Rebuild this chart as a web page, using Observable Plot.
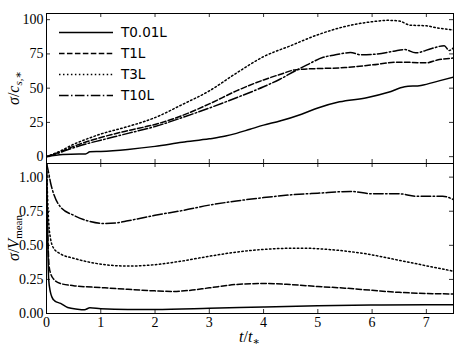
<!DOCTYPE html>
<html><head><meta charset="utf-8">
<script src="https://cdn.jsdelivr.net/npm/d3@7"></script>
<script src="https://cdn.jsdelivr.net/npm/@observablehq/plot@0.6"></script>
<style>body{margin:0;background:#fff} #c svg{display:block}</style>
</head><body><div id="c"></div><script>
// ---- data ----
const seriesNames = ["T0.01L", "T1L", "T3L", "T10L"];
const xTicks = [0, 1, 2, 3, 4, 5, 6, 7];
const yTopTicks = [0, 25, 50, 75, 100];
const yBotTicks = [0, 0.25, 0.5, 0.75, 1.0];

// top panel: sigma / c_s,*
const topT001_t = [0, 0.3, 0.6, 0.72, 0.8, 1.0, 1.5, 2.0, 2.5, 3.0, 3.3, 3.5, 3.75, 4.0, 4.3, 4.7, 5.0, 5.4, 5.9, 6.3, 6.6, 6.9, 7.25, 7.5];
const topT001_v = [0, 1.5, 2, 2, 3.5, 3.8, 5.3, 7.5, 10.5, 13, 15, 17, 20, 23, 26, 31, 35.5, 40, 43, 47, 51, 52, 55.5, 58];
const topT1_t = [0, 0.25, 0.5, 0.75, 1, 1.5, 2, 2.5, 3, 3.5, 4, 4.3, 4.6, 5, 5.5, 6, 6.5, 7, 7.2, 7.5];
const topT1_v = [0, 3.5, 7.5, 11, 14, 19, 23.5, 30, 38.5, 48, 56, 60, 63.5, 64.3, 65, 67, 69, 68.5, 70.5, 72];
const topT3_t = [0, 0.25, 0.5, 0.75, 1, 1.5, 2, 2.5, 3, 3.5, 4, 4.5, 5, 5.5, 6, 6.3, 6.5, 6.7, 7, 7.2, 7.5];
const topT3_v = [0, 4, 9, 13, 16.5, 22, 28.5, 38, 48, 61, 73, 81, 89, 95, 98.5, 99.5, 99, 96, 95.5, 94, 92.5];
const topT10_t = [0, 0.25, 0.5, 0.75, 1, 1.5, 2, 2.5, 3, 3.5, 4, 4.3, 4.6, 4.8, 5.1, 5.35, 5.6, 5.8, 6.1, 6.4, 6.6, 6.8, 7.1, 7.33, 7.42, 7.5];
const topT10_v = [0, 3, 6.5, 9.5, 12, 17, 22, 28.5, 35.5, 43, 51, 56.5, 63, 67, 72.5, 74.5, 76, 74.3, 75, 77, 78.2, 75.8, 79, 81, 77.5, 79.5];

// bottom panel: sigma / V_mean
const botT001_t = [0, 0.02, 0.04, 0.07, 0.1, 0.15, 0.26, 0.39, 0.57, 0.7, 0.8, 1.0, 1.5, 2, 3, 4, 5, 6, 7, 7.5];
const botT001_v = [1.1, 0.6, 0.25, 0.16, 0.12, 0.093, 0.074, 0.044, 0.032, 0.028, 0.042, 0.035, 0.03, 0.03, 0.038, 0.048, 0.057, 0.062, 0.065, 0.065];
const botT1_t = [0, 0.03, 0.05, 0.08, 0.13, 0.26, 0.5, 1, 1.5, 2, 2.3, 2.6, 3, 3.5, 4, 4.5, 5, 5.5, 6, 6.5, 7, 7.5];
const botT1_v = [1.1, 0.5, 0.34, 0.29, 0.253, 0.22, 0.204, 0.19, 0.177, 0.166, 0.162, 0.168, 0.188, 0.213, 0.22, 0.212, 0.198, 0.186, 0.17, 0.155, 0.147, 0.143];
const botT3_t = [0, 0.03, 0.05, 0.07, 0.13, 0.26, 0.5, 0.81, 1.12, 1.5, 2, 2.5, 3, 3.5, 4, 4.5, 4.8, 5.3, 5.9, 6.5, 7, 7.5];
const botT3_v = [1.1, 0.75, 0.62, 0.56, 0.48, 0.437, 0.405, 0.375, 0.356, 0.348, 0.358, 0.385, 0.42, 0.45, 0.47, 0.478, 0.478, 0.466, 0.437, 0.39, 0.35, 0.31];
const botT10_t = [0, 0.03, 0.08, 0.13, 0.26, 0.5, 0.8, 1.05, 1.3, 1.5, 2, 2.5, 3, 3.5, 4, 4.5, 5, 5.6, 6, 6.5, 6.8, 7.3, 7.5];
const botT10_v = [1.1, 1.05, 0.95, 0.88, 0.78, 0.72, 0.675, 0.66, 0.665, 0.68, 0.72, 0.755, 0.795, 0.825, 0.85, 0.87, 0.882, 0.895, 0.878, 0.878, 0.86, 0.86, 0.835];

// ---- build ----
const dash = {"T0.01L": null, "T1L": "5.55,2.4", "T3L": "1.5,2.475", "T10L": "9.6,2.4,1.5,2.4"};
const zipRows = (ts, vs) => ts.map((t, i) => ({t, v: vs[i]}));
const topData = [zipRows(topT001_t, topT001_v), zipRows(topT1_t, topT1_v), zipRows(topT3_t, topT3_v), zipRows(topT10_t, topT10_v)];
const botData = [zipRows(botT001_t, botT001_v), zipRows(botT1_t, botT1_v), zipRows(botT3_t, botT3_v), zipRows(botT10_t, botT10_v)];

const W = 463, ML = 46, MR = 10;
const FW = W - ML - MR, FH = 150, TL = 4;
const serif = "'Liberation Serif', 'DejaVu Serif', serif";

function ticksMarks() {
  return [
    Plot.tickX(xTicks, {x: d => d, insetTop: FH - TL, stroke: "#000", strokeWidth: 0.8}),
    Plot.tickX(xTicks, {x: d => d, insetBottom: FH - TL, stroke: "#000", strokeWidth: 0.8})
  ];
}
function yTickMarks(ticks) {
  return [
    Plot.tickY(ticks, {y: d => d, insetRight: FW - TL, stroke: "#000", strokeWidth: 0.8}),
    Plot.tickY(ticks, {y: d => d, insetLeft: FW - TL, stroke: "#000", strokeWidth: 0.8})
  ];
}
function lineMarks(data) {
  return data.map((rows, i) => Plot.line(rows, {
    x: "t", y: "v", stroke: "#000", strokeWidth: 1.5,
    strokeDasharray: dash[seriesNames[i]], curve: "monotone-x", clip: true
  }));
}

const topPlot = Plot.plot({
  width: W, height: 13 + FH, marginTop: 13, marginBottom: 0, marginLeft: ML, marginRight: MR,
  style: {fontFamily: serif, fontSize: "14px", background: "#fff", overflow: "visible"},
  x: {domain: [0, 7.5], axis: null},
  y: {domain: [-5, 104.5]},
  marks: [
    ...lineMarks(topData),
    ...ticksMarks(),
    ...yTickMarks(yTopTicks),
    Plot.axisY(yTopTicks, {tickSize: 0, tickPadding: 3, label: null, fontSize: 14}),
    Plot.frame({stroke: "#000", strokeWidth: 1})
  ]
});

const botPlot = Plot.plot({
  width: W, height: FH + 34, marginTop: 0, marginBottom: 34, marginLeft: ML, marginRight: MR,
  style: {fontFamily: serif, fontSize: "14px", background: "#fff", overflow: "visible"},
  x: {domain: [0, 7.5]},
  y: {domain: [0, 1.1]},
  marks: [
    ...lineMarks(botData),
    ...ticksMarks(),
    ...yTickMarks(yBotTicks),
    Plot.axisY(yBotTicks, {tickSize: 0, tickPadding: 3, label: null, tickFormat: d3.format(".2f"), fontSize: 14}),
    Plot.axisX(xTicks, {tickSize: 0, tickPadding: 4, label: null, tickFormat: d3.format("d"), fontSize: 14}),
    Plot.frame({stroke: "#000", strokeWidth: 1})
  ]
});

document.getElementById("c").append(topPlot, botPlot);

// legend (top panel, upper left)
const ts = d3.select(topPlot);
const lg = ts.append("g").attr("text-anchor", "start");
seriesNames.forEach((s, i) => {
  const y = 32.5 + 21 * i;
  lg.append("line").attr("x1", 59).attr("x2", 113).attr("y1", y).attr("y2", y)
    .attr("stroke", "#000").attr("stroke-width", 1.5)
    .attr("stroke-dasharray", dash[s]);
  lg.append("text").attr("x", 121).attr("y", y).attr("dy", "0.36em")
    .attr("text-anchor", "start")
    .attr("font-family", "'DejaVu Sans', sans-serif").attr("font-size", 13.5)
    .attr("fill", "#000").text(s);
});

// axis labels (math style)
function mathLabel(sel, parts, attrs) {
  const t = sel.append("text").attr("font-family", serif).attr("font-size", 16).attr("fill", "#000");
  Object.entries(attrs).forEach(([k, v]) => t.attr(k, v));
  parts.forEach(p => {
    const sp = t.append("tspan").text(p.s);
    if (p.i) sp.attr("font-style", "italic");
    if (p.sub) sp.attr("font-size", 11).attr("dy", p.dy);
  });
  return t;
}
mathLabel(ts, [{s: "σ", i: 1}, {s: "/"}, {s: "c", i: 1}, {s: "s,∗", i: 1, sub: 1, dy: 3}],
  {transform: "translate(19,88) rotate(-90)", "text-anchor": "middle"});
const bs = d3.select(botPlot);
mathLabel(bs, [{s: "σ", i: 1}, {s: "/"}, {s: "V", i: 1}, {s: "mean", sub: 1, dy: 3}],
  {transform: "translate(19,75) rotate(-90)", "text-anchor": "middle"});
mathLabel(bs, [{s: "t", i: 1}, {s: "/"}, {s: "t", i: 1}, {s: "∗", sub: 1, dy: 3}],
  {x: ML + FW / 2, y: 179, "text-anchor": "middle"});
</script></body></html>
